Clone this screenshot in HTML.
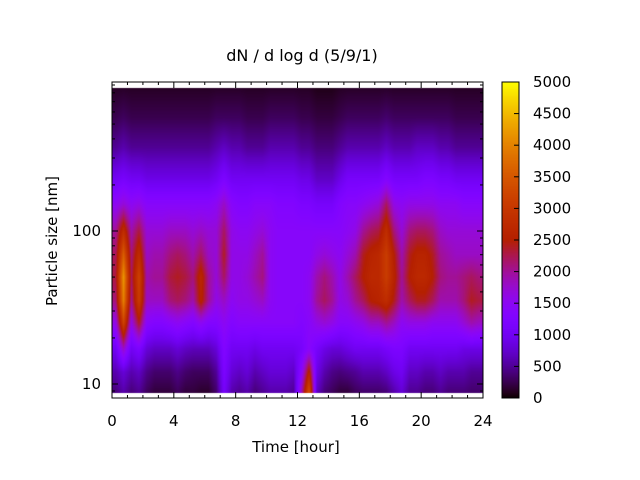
<!DOCTYPE html>
<html><head><meta charset="utf-8"><style>
html,body{margin:0;padding:0;background:#fff;}
#wrap{position:relative;width:640px;height:480px;overflow:hidden;font-family:"DejaVu Sans","Liberation Sans",sans-serif;}
canvas,svg{position:absolute;left:0;top:0;}
</style></head><body>
<div id="wrap">
<canvas id="hm" width="640" height="480"></canvas>
<svg id="ax" width="640" height="480"></svg>
</div>
<script>
// times (hour) of column centers
const times = [0.25,0.75,1.25,1.75,2.25,2.75,3.25,3.75,4.25,4.75,5.25,5.75,6.25,6.75,7.25,7.75,8.25,8.75,9.25,9.75,10.25,10.75,11.25,11.75,12.25,12.75,13.25,13.75,14.25,14.75,15.25,15.75,16.25,16.75,17.25,17.75,18.25,18.75,19.25,19.75,20.25,20.75,21.25,21.75,22.25,22.75,23.25,23.75];
// particle sizes (nm) of rows, bottom to top
const sizes = [9,12,17,25,35,50,70,100,150,220,350,550,850];
// dN/dlogd in hundreds, one row per size
const row9   = [4,6,4,5,3,2,2,2,3,2,2,1.5,1.5,3.5,11,6,5,6,4,5,6,6,6,5,18,34,7,4,3,2,2,3,3.5,3.5,3.5,4,6,8,5,5,4,4,5,4,4,4,3.5,3.5];
const row12  = [6,8,6,7,4.5,3.5,3.5,3.5,4.5,3.5,3,3,3,5,12,8,7,8,6,7,8,8,8,7,14,26,9,6,4.5,4,4.5,5,6,6,6,7,9,10,7,7,6,6,7,6,6,6,5,5];
const row17  = [10,18,10,12,8,7,7,7,8,7,6.5,6.5,6.5,8,13,10,10,10,9,10,10,10,10,10,11,14,11,9,8,8,9,10,10,10,10,11,12,12,10,10,10,10,10,10,10,9,9,9];
const row25  = [16,32,16,24,14,13,13,14,15,14,13,15,13,13,15,13,14,14,14,14,14,14,14,14,13,14,16,17,16,14,14,15,16,18,18,20,18,15,16,16,16,15,15,15,15,17,19,18];
const row35  = [21,40,20,31,18,18,18,21,22,21,19,26,20,16,18,15,16,16,17,18,15,14,14,14,14,15,20,22,20,16,17,20,22,25,26,28,24,19,22,24,24,22,19,19,19,21,24,23];
const row50  = [23,42,22,32,19,20,20,23,24,23,21,27,20,17,22,16,16,17,19,21,15,14,14,14,14,15,19,21,19,16,19,22,25,27,27,31,26,20,25,27,27,25,21,20,20,21,22,21];
const row70  = [22,36,21,28,18,19,19,21,22,21,19,22,18,17,24,16,16,16,18,20,15,14,14,14,14,14,16,17,16,15,17,19,24,26,27,31,25,19,24,26,26,24,20,19,18,18,18,18];
const row100 = [20,28,19,23,17,17,17,18,18,18,17,18,17,17,22,16,15,15,16,17,15,14,14,14,14,14,14,14,14,14,15,16,20,22,23,28,21,17,21,22,22,21,18,17,17,17,17,17];
const row150 = [15,17,15,16,14,14,14,14,14,14,14,14,14,15,18,14,13,13,14,14,14,13,13,13,12,12,11,11,11,13,14,14,15,16,17,22,16,15,16,16,16,16,15,15,15,14,14,14];
const row220 = [10,11,10,10,9,9,9,9,9,9,9,9,9,10,12,10,10,10,10,10,10,10,10,10,9,9,7,7,7,9,11,11,11,11,11,13,11,11,11,11,12,12,11,11,10,10,10,10];
const row350 = [5,6,5,5,5,5,5,5,5,5,5,5,5,6,7,6,6,5,5,5,6,6,6,6,5,5,4,4,4,5,6,6,6,6,6,7,6,6,6,7,7,7,6,6,5,5,5,5];
const row550 = [2.5,3,2.5,2.5,2.5,2.5,2.5,2.5,2.5,2.5,2.5,2.5,2.5,3,3,3,3,2.5,2.5,2.5,3,3,3,3,2.5,2.5,2,2,2,2.5,3,3,3,3,3,3.5,3,3,3,3,3,3,3,3,2.5,2.5,2.5,2.5];
const row850 = [1.2,1.3,1.2,1.2,1.2,1.2,1.2,1.2,1.2,1.2,1.2,1.2,1.2,1.3,1.3,1.3,1.3,1.2,1.2,1.2,1.3,1.3,1.3,1.3,1.2,1.2,0.8,0.8,0.8,1.2,1.3,1.3,1.3,1.3,1.3,1.4,1.3,1.3,1.3,1.3,1.3,1.3,1.3,1.3,1.2,1.2,1.2,1.2];
const rows = [row9,row12,row17,row25,row35,row50,row70,row100,row150,row220,row350,row550,row850];
const xTicks = [0,4,8,12,16,20,24];
const yTicks = [10,100];
const cbTicks = [0,500,1000,1500,2000,2500,3000,3500,4000,4500,5000];
const cbMax = 5000;

const L=112,R=483,T=82,B=398;
const HT=88,HB=393;
const X = t => L + (t/24)*(R-L);
const Y = s => 384 - (Math.log10(s)-1)*153;
const Xinv = x => (x-L)/(R-L)*24;
const Yinv = y => Math.pow(10, 1 + (384-y)/153);
function pal(v){
  let x=Math.max(0,Math.min(1,v/cbMax));
  let r=Math.sqrt(x), g=x*x*x, b=Math.sin(2*Math.PI*x);
  const c=u=>Math.round(255*Math.max(0,Math.min(1,u)));
  return [c(r),c(g),c(b)];
}
function val(t,s){
  const ls=Math.log10(s);
  let ci=0; while(ci<times.length-2 && times[ci+1]<t) ci++;
  let ft=(t-times[ci])/(times[ci+1]-times[ci]); ft=Math.max(0,Math.min(1,ft));
  let ri=0; while(ri<sizes.length-2 && sizes[ri+1]<s) ri++;
  let fs=(ls-Math.log10(sizes[ri]))/(Math.log10(sizes[ri+1])-Math.log10(sizes[ri])); fs=Math.max(0,Math.min(1,fs));
  const a=rows[ri][ci]*(1-ft)+rows[ri][ci+1]*ft;
  const b=rows[ri+1][ci]*(1-ft)+rows[ri+1][ci+1]*ft;
  return 100*(a*(1-fs)+b*fs);
}
const cv=document.getElementById('hm'), ctx=cv.getContext('2d');
const img=ctx.createImageData(640,480);
for(let y=HT;y<HB;y++){const s=Yinv(y+0.5);
  for(let x=L;x<R;x++){const c=pal(val(Xinv(x+0.5),s));const i=(y*640+x)*4;
    img.data[i]=c[0];img.data[i+1]=c[1];img.data[i+2]=c[2];img.data[i+3]=255;}}
const cbL=502,cbR=519;
for(let y=T;y<B;y++){const c=pal((B-y-0.5)/(B-T)*cbMax);
  for(let x=cbL;x<cbR;x++){const i=(y*640+x)*4;img.data[i]=c[0];img.data[i+1]=c[1];img.data[i+2]=c[2];img.data[i+3]=255;}}
ctx.putImageData(img,0,0);

const svg=document.getElementById('ax'), NS='http://www.w3.org/2000/svg';
function mk(tag,attrs,name,text){const e=document.createElementNS(NS,tag);for(const k in attrs)e.setAttribute(k,attrs[k]);
  
  
  if(text!==undefined)e.textContent=text;svg.appendChild(e);return e;}
mk('rect',{x:L,y:T,width:R-L,height:B-T,fill:'none',stroke:'#000','stroke-width':1},'plot-frame');
mk('rect',{x:cbL,y:T,width:cbR-cbL,height:B-T,fill:'none',stroke:'#000','stroke-width':1},'colorbar-frame');
for(let h=0;h<=24;h++){const x=X(h),len=(h%4===0)?6:3;
  mk('line',{x1:x,y1:B,x2:x,y2:B-len,stroke:'#000'},'x-tick');
  mk('line',{x1:x,y1:T,x2:x,y2:T+len,stroke:'#000'},'x-tick-top');}
xTicks.forEach(t=>mk('text',{x:X(t),y:426,'text-anchor':'middle','font-size':15,fill:'#000'},'x-tick-label',String(t)));
[8,9,10,20,30,40,50,60,70,80,90,100,200,300,400,500,600,700,800,900].forEach(s=>{const y=Y(s);if(y<T||y>B)return;const len=(s===10||s===100)?6:3;
  mk('line',{x1:L,y1:y,x2:L+len,y2:y,stroke:'#000'},'y-tick');
  mk('line',{x1:R,y1:y,x2:R-len,y2:y,stroke:'#000'},'y-tick-right');});
yTicks.forEach(s=>mk('text',{x:101,y:Y(s)+5,'text-anchor':'end','font-size':15,fill:'#000'},'y-tick-label',String(s)));
cbTicks.forEach(v=>{const y=B-(v/cbMax)*(B-T);
  mk('line',{x1:cbR,y1:y,x2:cbR-5,y2:y,stroke:'#000'},'colorbar-tick');
  mk('text',{x:533,y:y+5,'font-size':15,fill:'#000'},'colorbar-tick-label',String(v));});
mk('text',{x:302,y:61,'text-anchor':'middle','font-size':16,fill:'#000'},'chart-title','dN / d log d (5/9/1)');
mk('text',{x:296,y:452,'text-anchor':'middle','font-size':15,fill:'#000'},'x-axis-title','Time [hour]');
mk('text',{x:57,y:241,'text-anchor':'middle','font-size':15,fill:'#000',transform:'rotate(-90 57 241)'},'y-axis-title','Particle size [nm]');
</script>
</body></html>
